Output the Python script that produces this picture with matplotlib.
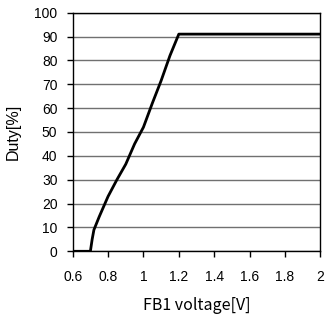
import numpy as np
import matplotlib.pyplot as plt

# FB1 voltage vs duty
fb1_voltage = [0.6, 0.70, 0.71, 0.72, 0.75, 0.8, 0.85, 0.9, 0.95, 1.0, 1.05, 1.1, 1.15, 1.2, 2.0]
duty = [0, 0, 5, 9, 14.5, 23, 30, 36.5, 45, 52, 62, 71.5, 82, 91, 91]

x_ticks = [0.6, 0.8, 1.0, 1.2, 1.4, 1.6, 1.8, 2.0]
x_tick_labels = ['0.6', '0.8', '1', '1.2', '1.4', '1.6', '1.8', '2']
y_ticks = list(range(0, 101, 10))

fig = plt.figure(figsize=(3.26, 3.14), dpi=100)
ax = fig.add_axes([0.223, 0.1997, 0.7595, 0.76])

ax.plot(fb1_voltage, duty, color='black', linewidth=2.0, solid_joinstyle='round', zorder=3)

ax.set_xlim(0.6, 2.0)
ax.set_ylim(0, 100)
ax.set_xticks(x_ticks)
ax.set_xticklabels(x_tick_labels)
ax.set_yticks(y_ticks)
ax.grid(axis='y', color='#707070', linewidth=1.0)
ax.set_axisbelow(True)

for spine in ax.spines.values():
    spine.set_color('black')
    spine.set_linewidth(1.0)

ax.tick_params(direction='out', length=4, width=1, color='black')
for lbl in ax.get_xticklabels() + ax.get_yticklabels():
    lbl.set_fontfamily(['Liberation Sans', 'DejaVu Sans'])
    lbl.set_fontsize(10)
ax.tick_params(axis='x', pad=9.5)
ax.tick_params(axis='y', pad=7)

ax.set_xlabel('FB1 voltage[V]', family=['Noto Sans CJK JP', 'DejaVu Sans'], fontsize=11.5, labelpad=9.5)
ax.set_ylabel('Duty[%]', family=['Liberation Sans', 'DejaVu Sans'], fontsize=11.5, labelpad=10)

fig.savefig('out.png', dpi=100)
